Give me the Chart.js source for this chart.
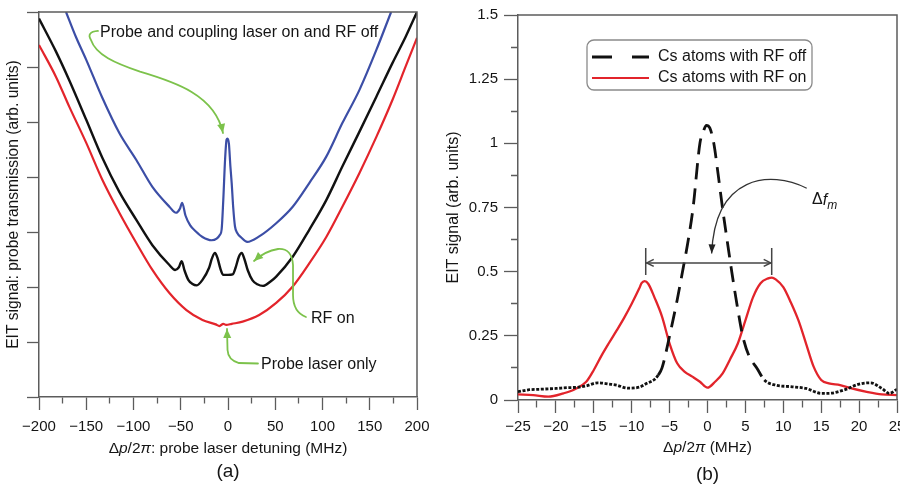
<!DOCTYPE html>
<html><head><meta charset="utf-8">
<script src="https://cdn.jsdelivr.net/npm/chart.js@4.4.0/dist/chart.umd.min.js"></script>
<style>
html,body{margin:0;padding:0;background:#fff;overflow:hidden;width:900px;height:487px;position:relative;}
#wa{position:absolute;left:0;top:0;width:440px;height:487px;}
#wb{position:absolute;left:440px;top:0;width:480px;height:487px;}
canvas{display:block;}
</style></head><body>
<div id="wa"><canvas id="ca" width="440" height="487"></canvas></div>
<div id="wb"><canvas id="cb" width="480" height="487"></canvas></div>
<script>
// ---------- Panel (a) data: probe transmission vs detuning (MHz) ----------
const aRedX = [-200,-182,-168,-150,-133,-115,-97,-80,-62,-44,-27,-13,-9,-5,-2,4,15.5,33,51,68.5,86,104,121,139,157,174,188,200];
const aRedY = [6.40,5.82,5.28,4.62,3.95,3.35,2.80,2.31,1.89,1.58,1.40,1.32,1.29,1.33,1.31,1.33,1.37,1.49,1.71,2.01,2.43,2.91,3.46,4.07,4.73,5.40,6.01,6.53];
const aBlackX = [-200,-182,-168,-150,-133,-115,-97,-80,-62,-56,-52,-49,-46,-42,-38,-33,-27,-20,-17,-13.8,-11,-8,-5,0,5,8,11.5,14.5,17.5,21,26,31,37,45,51,68.5,86,104,121,139,157,174,188,200];
const aBlackY = [6.88,6.28,5.76,5.04,4.35,3.73,3.22,2.76,2.40,2.31,2.36,2.47,2.30,2.13,2.06,2.03,2.13,2.35,2.52,2.62,2.52,2.33,2.22,2.22,2.23,2.35,2.55,2.62,2.50,2.30,2.12,2.05,2.02,2.10,2.19,2.55,3.04,3.58,4.19,4.82,5.46,6.07,6.55,7.0];
const aBlueX = [-171.4,-161,-150,-133,-115,-97,-80,-62,-55,-51,-48.5,-45,-40,-34,-27,-17.3,-12,-8.5,-6.7,-5,-3,-1.5,-0.5,1,2.5,3.9,5.5,7.4,9.8,14,20.3,33,51,68.5,86,104,121,139,157,172.6];
const aBlueY = [7.0,6.55,6.13,5.44,4.80,4.31,3.82,3.46,3.35,3.42,3.53,3.30,3.12,3.01,2.91,2.85,2.88,2.95,3.05,3.58,4.35,4.68,4.70,4.60,4.20,3.89,3.45,3.10,2.98,2.90,2.82,2.92,3.16,3.46,3.89,4.37,4.98,5.58,6.31,7.0];

// ---------- Panel (b) data: EIT signal vs detuning (MHz) ----------
const bOffX = [-25,-23.5,-22,-20,-18.5,-17,-16,-14.5,-13,-12,-10.5,-9,-8,-7,-6.5,-6,-5,-4,-3.3,-2.5,-1.9,-1,-0.5,-0.15,0.3,0.83,1.4,1.97,2.6,3.2,3.9,4.64,5.5,6.5,7.5,9,11,13,15,16,18,20,21.5,23,24,25];
const bOffY = [0.032,0.04,0.042,0.045,0.048,0.05,0.055,0.067,0.062,0.058,0.046,0.05,0.065,0.08,0.097,0.125,0.25,0.39,0.5,0.63,0.75,1.0,1.05,1.07,1.06,1.0,0.88,0.75,0.62,0.5,0.37,0.25,0.17,0.125,0.078,0.058,0.052,0.045,0.026,0.026,0.039,0.062,0.067,0.045,0.026,0.042];
const bOnX = [-25,-23,-21,-19,-17.5,-16,-15,-14,-13,-12,-11,-10,-9,-8.7,-8.3,-7.8,-7,-6,-5,-4,-3,-2,-1,0,1,2,3,4,5,6,7,8,8.5,9,10,11,12,13,14,15,16,17.5,19,21,23,25];
const bOnY = [0.022,0.019,0.013,0.026,0.042,0.071,0.117,0.172,0.222,0.27,0.32,0.375,0.435,0.455,0.463,0.452,0.40,0.325,0.22,0.143,0.11,0.091,0.071,0.048,0.071,0.104,0.16,0.22,0.31,0.40,0.455,0.474,0.477,0.47,0.44,0.38,0.31,0.22,0.13,0.078,0.065,0.058,0.045,0.032,0.022,0.019];

const bLabels = ['Cs atoms with RF off','Cs atoms with RF on'];

// ---------- styling ----------
const FONT = "'Liberation Sans', Arial, Helvetica, sans-serif";
const AX = '#5c5c5c';
const TXT = '#151515';
const GREEN = '#7cc24b';
const pts = (xs, ys) => xs.map((x, i) => ({x, y: ys[i]}));
const fmt = v => (v < 0 ? '\u2212' + Math.abs(v) : String(v));
const isMult = (v, m) => Math.abs(v / m - Math.round(v / m)) < 1e-6;

function fontStr(size, italic){ return (italic ? 'italic ' : '') + size + 'px ' + FONT; }
function rich(ctx, parts, x, y, size, align){
  let w = 0; const ws = [];
  parts.forEach(p => { const s = p[2] ? Math.round(size*0.72) : size; ctx.font = fontStr(s, p[1]); const m = ctx.measureText(p[0]).width; ws.push(m); w += m; });
  let xx = align === 'left' ? x : x - w/2;
  ctx.textAlign = 'left'; ctx.textBaseline = 'middle';
  parts.forEach((p, i) => { const s = p[2] ? Math.round(size*0.72) : size; ctx.font = fontStr(s, p[1]); ctx.fillText(p[0], xx, y + (p[2] ? size*0.33 : 0)); xx += ws[i]; });
}
function arrowHead(ctx, tip, from, len, wid, filled){
  const ang = Math.atan2(tip[1]-from[1], tip[0]-from[0]);
  const bx = tip[0]-len*Math.cos(ang), by = tip[1]-len*Math.sin(ang);
  const px = -Math.sin(ang)*wid/2, py = Math.cos(ang)*wid/2;
  ctx.beginPath();
  ctx.moveTo(bx+px, by+py); ctx.lineTo(tip[0], tip[1]); ctx.lineTo(bx-px, by-py);
  if (filled){ ctx.closePath(); ctx.fill(); } else ctx.stroke();
}
function frame(ctx, a){
  ctx.save(); ctx.strokeStyle = AX; ctx.lineWidth = 1.5;
  ctx.beginPath(); ctx.moveTo(a.left, a.top); ctx.lineTo(a.right, a.top); ctx.lineTo(a.right, a.bottom); ctx.stroke();
  ctx.restore();
}

// ---------- Panel (a) annotations ----------
const annA = {
  id: 'annA',
  afterDraw(chart){
    const {ctx, chartArea: a, scales: {x, y}} = chart;
    const P = (d, v) => [x.getPixelForValue(d), y.getPixelForValue(v)];
    frame(ctx, a);
    ctx.save();
    ctx.strokeStyle = GREEN; ctx.fillStyle = GREEN; ctx.lineWidth = 1.8; ctx.lineCap = 'round';
    // arrow 1
    let p0 = P(-137.6,6.655), q = P(-150.3,6.636), p1 = P(-145.0,6.491),
        c1 = P(-139.7,6.218), c2 = P(-119.6,6.073), p2 = P(-93.1,5.915),
        c3 = P(-56.1,5.727), c4 = P(-13.8,5.491), p3 = P(-5.3,4.8);
    ctx.beginPath(); ctx.moveTo(...p0); ctx.quadraticCurveTo(...q, ...p1);
    ctx.bezierCurveTo(...c1, ...c2, ...p2); ctx.bezierCurveTo(...c3, ...c4, ...p3); ctx.stroke();
    arrowHead(ctx, p3, c4, 9, 8, true);
    // arrow 2 (RF on)
    let r0 = P(82.5,1.455), r1 = P(68.8,1.545), r2 = P(68.8,1.855), r3 = P(68.8,2.4),
        r4 = P(67.7,2.709), r5 = P(52.9,2.691), r6 = P(39.2,2.655), r7 = P(27.5,2.473);
    ctx.beginPath(); ctx.moveTo(...r0); ctx.quadraticCurveTo(...r1, ...r2); ctx.lineTo(...r3);
    ctx.quadraticCurveTo(...r4, ...r5); ctx.quadraticCurveTo(...r6, ...r7); ctx.stroke();
    arrowHead(ctx, r7, r6, 9, 8, true);
    // arrow 3 (probe laser only)
    let s0 = P(31.7,0.609), s1 = P(11.6,0.618), s2 = P(0,0.673), s3 = P(-0.5,0.855), s4 = P(-1.05,1.236);
    ctx.beginPath(); ctx.moveTo(...s0); ctx.lineTo(...s1); ctx.quadraticCurveTo(...s2, ...s3); ctx.lineTo(...s4); ctx.stroke();
    arrowHead(ctx, s4, s3, 9, 8, true);
    ctx.restore();
    // texts
    ctx.save(); ctx.fillStyle = TXT;
    rich(ctx, [['Probe and coupling laser on and RF off']], ...P(-135.4,6.618), 16, 'left');
    rich(ctx, [['RF on']], ...P(87.8,1.418), 16, 'left');
    rich(ctx, [['Probe laser only']], ...P(34.9,0.582), 16, 'left');
    const cx = (a.left + a.right)/2;
    rich(ctx, [['\u0394'],['p',true],['/2'],['\u03c0',true],[': probe laser detuning (MHz)']], cx, a.bottom + 52, 15.5);
    rich(ctx, [['(a)']], cx, a.bottom + 75, 19);
    ctx.restore();
  }
};

// ---------- Panel (b) annotations ----------
const annB = {
  id: 'annB',
  afterDraw(chart){
    const {ctx, chartArea: a, scales: {x, y}} = chart;
    const P = (d, v) => [x.getPixelForValue(d), y.getPixelForValue(v)];
    frame(ctx, a);
    ctx.save();
    // legend
    const lx = a.left + 69, ly = a.top + 25, lw = 225, lh = 50, r = 7;
    ctx.strokeStyle = '#8a8a8a'; ctx.lineWidth = 1.3;
    ctx.beginPath();
    ctx.moveTo(lx + r, ly); ctx.lineTo(lx + lw - r, ly); ctx.arcTo(lx + lw, ly, lx + lw, ly + r, r);
    ctx.lineTo(lx + lw, ly + lh - r); ctx.arcTo(lx + lw, ly + lh, lx + lw - r, ly + lh, r);
    ctx.lineTo(lx + r, ly + lh); ctx.arcTo(lx, ly + lh, lx, ly + lh - r, r);
    ctx.lineTo(lx, ly + r); ctx.arcTo(lx, ly, lx + r, ly, r); ctx.closePath(); ctx.stroke();
    const ds = chart.data.datasets;
    [[ly + 17, [20, 20], 2.8], [ly + 38, [], 2.2]].forEach((it, i) => {
      ctx.strokeStyle = ds[i].borderColor; ctx.lineWidth = it[2]; ctx.setLineDash(it[1]); ctx.lineCap = 'butt';
      ctx.beginPath(); ctx.moveTo(lx + 5, it[0]); ctx.lineTo(lx + 62, it[0]); ctx.stroke();
      ctx.setLineDash([]);
      ctx.fillStyle = TXT; rich(ctx, [[ds[i].label]], lx + 71, it[0], 16, 'left');
    });
    // double arrow  (delta f_m)
    ctx.strokeStyle = '#444'; ctx.fillStyle = '#444'; ctx.lineWidth = 1.5;
    const L = P(-8.15, 0.534), R = P(8.47, 0.534);
    ctx.beginPath(); ctx.moveTo(...L); ctx.lineTo(...R); ctx.stroke();
    ctx.beginPath(); ctx.moveTo(...P(-8.15,0.487)); ctx.lineTo(...P(-8.15,0.592));
    ctx.moveTo(...P(8.47,0.487)); ctx.lineTo(...P(8.47,0.592)); ctx.stroke();
    arrowHead(ctx, [L[0]+1, L[1]], [L[0]+20, L[1]], 7, 7, false);
    arrowHead(ctx, [R[0]-1, R[1]], [R[0]-20, R[1]], 7, 7, false);
    // curved arrow
    ctx.lineWidth = 1.3; ctx.strokeStyle = '#333'; ctx.fillStyle = '#222';
    const c0 = P(13.09,0.825), cc1 = P(8.25,0.896), cc2 = P(0.99,0.877), ce = P(0.55,0.571);
    ctx.beginPath(); ctx.moveTo(...c0); ctx.bezierCurveTo(...cc1, ...cc2, ...ce); ctx.stroke();
    arrowHead(ctx, ce, cc2, 9, 7, true);
    ctx.fillStyle = TXT;
    rich(ctx, [['\u0394'],['f',true],['m',true,true]], ...P(13.79,0.779), 16, 'left');
    const cx = (a.left + a.right)/2;
    rich(ctx, [['\u0394'],['p',true],['/2'],['\u03c0',true],[' (MHz)']], cx, a.bottom + 48, 15.5);
    rich(ctx, [['(b)']], cx, a.bottom + 75, 19);
    ctx.restore();
  }
};

Chart.defaults.font.family = FONT;
Chart.defaults.color = TXT;

// ---------- Chart (a) ----------
new Chart(document.getElementById('ca'), {
  type: 'line',
  data: { datasets: [
    { label: 'Probe and coupling laser on and RF off', data: pts(aBlueX, aBlueY), borderColor: '#3c4ea6', borderWidth: 2.2 },
    { label: 'RF on', data: pts(aBlackX, aBlackY), borderColor: '#111111', borderWidth: 2.4 },
    { label: 'Probe laser only', data: pts(aRedX, aRedY), borderColor: '#e3242b', borderWidth: 2.2 }
  ]},
  options: {
    responsive: false, animation: false, devicePixelRatio: 1,
    layout: { padding: { top: 12, right: 23, left: 0, bottom: 0 } },
    elements: { point: { radius: 0 }, line: { cubicInterpolationMode: 'monotone' } },
    plugins: { legend: { display: false }, tooltip: { enabled: false } },
    scales: {
      x: { type: 'linear', min: -200, max: 200,
        afterFit: s => { s.height = 90; },
        ticks: { stepSize: 25, autoSkip: false, maxRotation: 0, padding: 8, color: TXT, font: { size: 15 },
          callback: v => (isMult(v, 50) ? fmt(v) : '') },
        grid: { drawOnChartArea: false, drawTicks: true, tickLength: 13, tickColor: AX, tickWidth: 1.3,
          tickBorderDash: c => (c.tick && !isMult(c.tick.value, 50)) ? [6, 100] : [] },
        border: { color: AX, width: 1.5 } },
      y: { min: 0, max: 7,
        afterFit: s => { s.width = 39; },
        ticks: { stepSize: 1, padding: 0, callback: () => '' },
        grid: { drawOnChartArea: false, drawTicks: true, tickLength: 12, tickColor: AX, tickWidth: 1.3 },
        border: { color: AX, width: 1.5 },
        title: { display: true, text: 'EIT signal: probe transmission (arb. units)', color: TXT, font: { size: 15.6 }, padding: { top: 4, bottom: 0 } } }
    }
  },
  plugins: [annA]
});

// ---------- Chart (b) ----------
new Chart(document.getElementById('cb'), {
  type: 'line',
  data: { datasets: [
    { label: bLabels[0], data: pts(bOffX, bOffY), borderColor: '#111111', borderWidth: 2.8,
      segment: { borderDash: c => (c.p0.parsed.x >= -6.6 && c.p1.parsed.x <= 7.6) ? [16, 9] : [3, 1.6] } },
    { label: bLabels[1], data: pts(bOnX, bOnY), borderColor: '#e2242b', borderWidth: 2.3 }
  ]},
  options: {
    responsive: false, animation: false, devicePixelRatio: 1,
    layout: { padding: { top: 15, right: 23, left: 0, bottom: 0 } },
    elements: { point: { radius: 0 }, line: { cubicInterpolationMode: 'monotone' } },
    plugins: { legend: { display: false }, tooltip: { enabled: false } },
    scales: {
      x: { type: 'linear', min: -25, max: 25,
        afterFit: s => { s.height = 87; },
        ticks: { stepSize: 2.5, autoSkip: false, maxRotation: 0, padding: 5, color: TXT, font: { size: 15 },
          callback: v => (isMult(v, 5) ? fmt(v) : '') },
        grid: { drawOnChartArea: false, drawTicks: true, tickLength: 13, tickColor: AX, tickWidth: 1.3,
          tickBorderDash: c => (c.tick && !isMult(c.tick.value, 5)) ? [7, 100] : [] },
        border: { color: AX, width: 1.5 } },
      y: { min: 0, max: 1.5,
        afterFit: s => { s.width = 78; },
        ticks: { stepSize: 0.125, autoSkip: false, padding: 6, color: TXT, font: { size: 15 },
          callback: v => (isMult(v, 0.25) ? String(+v.toFixed(3)) : '') },
        grid: { drawOnChartArea: false, drawTicks: true, tickLength: 14, tickColor: AX, tickWidth: 1.3,
          tickBorderDash: c => (c.tick && !isMult(c.tick.value, 0.25)) ? [0, 7, 7, 100] : [] },
        border: { color: AX, width: 1.5 },
        title: { display: true, text: 'EIT signal (arb. units)', color: TXT, font: { size: 16 }, padding: { top: 4, bottom: 0 } } }
    }
  },
  plugins: [annB]
});
</script>
</body></html>
